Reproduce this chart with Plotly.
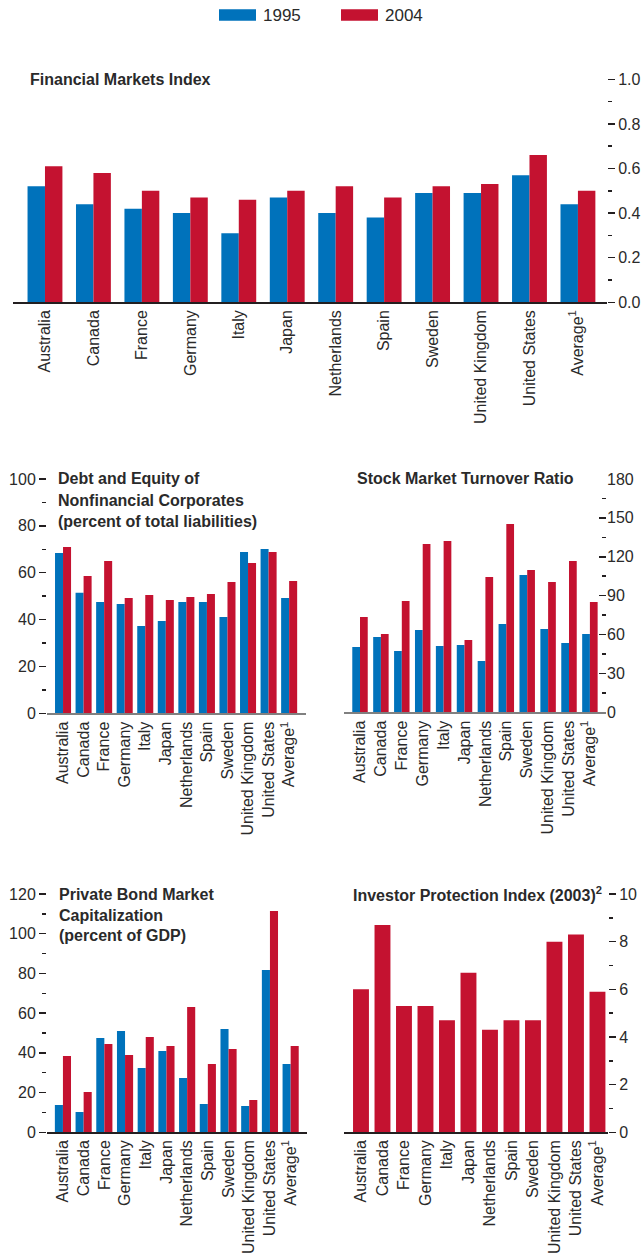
import plotly.graph_objects as go

countries = ["Australia", "Canada", "France", "Germany", "Italy", "Japan", "Netherlands",
             "Spain", "Sweden", "United Kingdom", "United States", "Average<sup>1</sup>"]

fmi_1995 = [0.52, 0.44, 0.42, 0.40, 0.31, 0.47, 0.40, 0.38, 0.49, 0.49, 0.57, 0.44]
fmi_2004 = [0.61, 0.58, 0.50, 0.47, 0.46, 0.50, 0.52, 0.47, 0.52, 0.53, 0.66, 0.50]

debt_1995 = [68.4, 51.4, 47.5, 46.7, 37.3, 39.4, 47.5, 47.5, 41.1, 68.8, 70.1, 49.2]
debt_2004 = [71.0, 58.6, 65.0, 49.2, 50.5, 48.4, 49.6, 50.9, 56.0, 64.2, 68.8, 56.5]

turn_1995 = [50.4, 58.1, 47.3, 63.5, 51.2, 51.9, 39.6, 68.1, 105.9, 64.3, 53.5, 60.4]
turn_2004 = [73.5, 60.4, 85.9, 129.9, 132.2, 55.8, 104.4, 145.3, 109.8, 100.5, 116.7, 85.1]

bond_1995 = [13.8, 10.2, 47.5, 51.0, 32.4, 41.0, 27.4, 14.3, 52.0, 13.3, 81.7, 34.4]
bond_2004 = [38.4, 20.3, 44.5, 38.9, 48.0, 43.5, 63.1, 34.4, 42.0, 16.3, 111.4, 43.5]

inv_2003 = [6.0, 8.7, 5.3, 5.3, 4.7, 6.7, 4.3, 4.7, 4.7, 8.0, 8.3, 5.9]

W, H = 641, 1255
BLUE = "#0072BB"
RED = "#C41230"
TXT = "#2a2a2a"
FONT = "Liberation Sans, Arial, sans-serif"


def fx(px):
    return px / W


def fy(py):
    return 1 - py / H


fig = go.Figure()


def pair(xa, ya, v95, v04, w):
    fig.add_trace(go.Bar(x=countries, y=v95, name="1995", marker_color=BLUE, marker_line_width=0,
                         width=w, offset=-w, xaxis=xa, yaxis=ya, showlegend=False))
    fig.add_trace(go.Bar(x=countries, y=v04, name="2004", marker_color=RED, marker_line_width=0,
                         width=w, offset=0, xaxis=xa, yaxis=ya, showlegend=False))


pair("x", "y", fmi_1995, fmi_2004, 0.36)
pair("x2", "y2", debt_1995, debt_2004, 0.39)
pair("x3", "y3", turn_1995, turn_2004, 0.37)
pair("x4", "y4", bond_1995, bond_2004, 0.39)
fig.add_trace(go.Bar(x=countries, y=inv_2003, name="2003", marker_color=RED, marker_line_width=0,
                     width=0.74, offset=-0.37, xaxis="x5", yaxis="y5", showlegend=False))

tickfont = dict(family=FONT, size=16, color=TXT)


def xax(x0, x1, r0, r1, anchor, linecolor, lw):
    return dict(domain=[fx(x0), fx(x1)], range=[r0, r1], anchor=anchor, type="category",
                showline=True, linecolor=linecolor, linewidth=lw, ticks="", tickangle=-90,
                tickmode="array", tickvals=countries, ticktext=countries, automargin=False,
                tickfont=tickfont, showgrid=False, zeroline=False, fixedrange=True)


def yax(y0, y1, rng, dtick, side, ticks, labels, anchor, fmt="d", overlaying=None):
    d = dict(range=rng, side=side, anchor=anchor, dtick=dtick, tick0=0, ticks=ticks, ticklen=7,
             tickwidth=1.5, tickcolor="#231f20", showticklabels=labels, tickfont=tickfont,
             tickformat=fmt, showgrid=False, zeroline=False, showline=False, automargin=False,
             fixedrange=True,
             minor=dict(ticks=ticks, dtick=dtick / 2, tick0=0, ticklen=4, tickwidth=1.5,
                        tickcolor="#231f20", showgrid=False))
    if overlaying:
        d["overlaying"] = overlaying
    else:
        d["domain"] = [fy(y1), fy(y0)]
    return d


layout = dict(
    width=W, height=H, autosize=False, margin=dict(l=0, r=0, t=0, b=0, pad=0),
    paper_bgcolor="white", plot_bgcolor="rgba(0,0,0,0)", barmode="overlay",
    font=dict(family=FONT, color=TXT), hovermode=False,
    # panel 1
    xaxis=xax(13, 607, -0.66, 11.6, "y", "#231f20", 1.5),
    yaxis=yax(79.3, 302.3, [0, 1.0], 0.2, "right", "outside", True, "x", fmt=".1f"),
    yaxis6=yax(0, 0, [0, 1.0], 0.2, "left", "inside", False, "x", overlaying="y"),
    # panel 2
    xaxis2=xax(47, 306, -0.78, 11.82, "y2", "#808080", 2),
    yaxis2=yax(479, 713.3, [0, 100], 20, "left", "outside", True, "x2"),
    yaxis7=yax(0, 0, [0, 100], 20, "right", "inside", False, "x2", overlaying="y2"),
    # panel 3
    xaxis3=xax(344, 606, -0.766, 11.77, "y3", "#808080", 2),
    yaxis3=yax(479, 712.3, [0, 180], 30, "right", "inside", True, "x3"),
    yaxis8=yax(0, 0, [0, 180], 30, "left", "inside", False, "x3", overlaying="y3"),
    # panel 4
    xaxis4=xax(47, 307, -0.77, 11.79, "y4", "#231f20", 1.5),
    yaxis4=yax(894, 1132.3, [0, 120], 20, "left", "outside", True, "x4"),
    yaxis9=yax(0, 0, [0, 120], 20, "right", "inside", False, "x4", overlaying="y4"),
    # panel 5
    xaxis5=xax(344, 608, -0.79, 11.49, "y5", "#231f20", 1.5),
    yaxis5=yax(894, 1132.3, [0, 10], 2, "right", "outside", True, "x5"),
    yaxis10=yax(0, 0, [0, 10], 2, "left", "inside", False, "x5", overlaying="y5"),
)
fig.update_layout(**layout)

titlefont = dict(family=FONT, size=16, color=TXT, weight="bold")
titles = [
    ("Financial Markets Index", 28, 79.3),
    ("Debt and Equity of", 56, 479),
    ("Nonfinancial Corporates", 56, 500),
    ("(percent of total liabilities)", 56, 521.5),
    ("Stock Market Turnover Ratio", 355, 479),
    ("Private Bond Market", 57, 894),
    ("Capitalization", 57, 915),
    ("(percent of GDP)", 57, 935.5),
    ("Investor Protection Index (2003)<sup>2</sup>", 351, 894),
]
for t, x, y in titles:
    fig.add_annotation(text=t, x=fx(x), y=fy(y), xref="paper", yref="paper", xanchor="left",
                       yanchor="middle", showarrow=False, font=titlefont)

# legend
legend_items = [("1995", BLUE, 219), ("2004", RED, 341)]
for name, col, x0 in legend_items:
    fig.add_shape(type="rect", xref="paper", yref="paper", x0=fx(x0), x1=fx(x0 + 37),
                  y0=fy(20.7), y1=fy(9.3), fillcolor=col, line_width=0)
    fig.add_annotation(text=name, x=fx(x0 + 42), y=fy(15.5), xref="paper", yref="paper",
                       xanchor="left", yanchor="middle", showarrow=False,
                       font=dict(family=FONT, size=17, color=TXT))

fig.write_html("out.html", config={"displayModeBar": False, "staticPlot": True},
               post_script="document.body.style.margin='0';document.body.style.overflow='hidden';")
